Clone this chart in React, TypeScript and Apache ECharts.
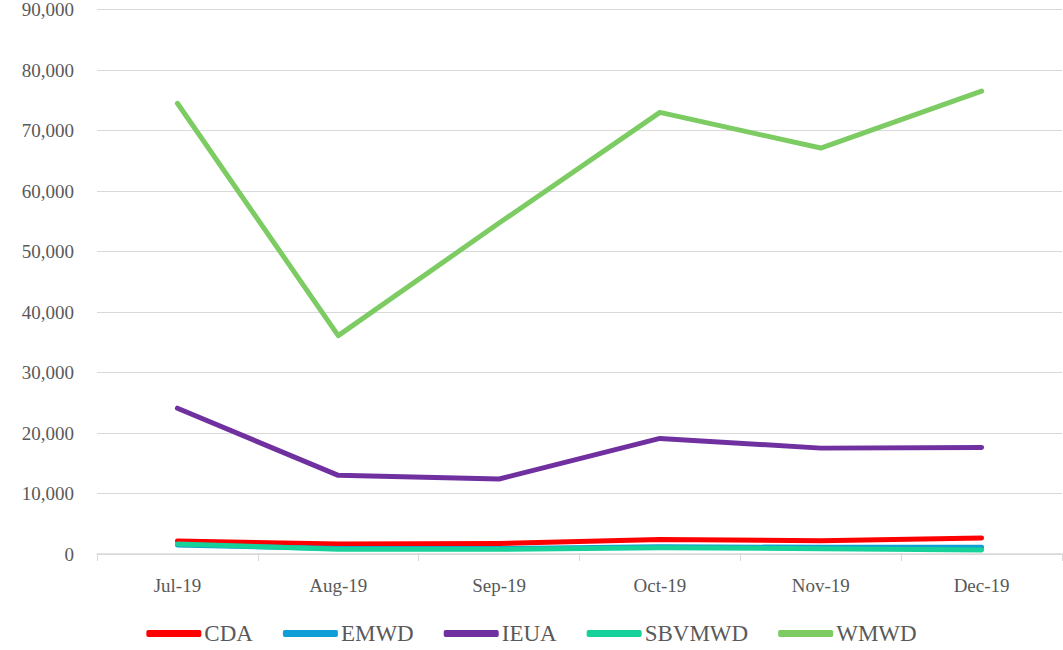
import React, { useEffect, useRef } from "react";
import * as echarts from "echarts";

const categories = ["Jul-19", "Aug-19", "Sep-19", "Oct-19", "Nov-19", "Dec-19"];
const cda = [2150, 1650, 1750, 2400, 2200, 2650];
const emwd = [1500, 900, 900, 1200, 1100, 1100];
const ieua = [24100, 13000, 12400, 19100, 17500, 17600];
const sbvmwd = [1650, 800, 780, 1050, 880, 650];
const wmwd = [74500, 36100, 54700, 73000, 67100, 76500];

const seriesDefs = [
  { name: "CDA", data: cda, color: "#ff0000" },
  { name: "EMWD", data: emwd, color: "#0f9ed5" },
  { name: "IEUA", data: ieua, color: "#7030a0" },
  { name: "SBVMWD", data: sbvmwd, color: "#17d19b" },
  { name: "WMWD", data: wmwd, color: "#7ccc63" },
];

const FONT = "'Liberation Serif', serif";

export default function App() {
  const ref = useRef<HTMLDivElement>(null);
  useEffect(() => {
    if (!ref.current) return;
    const chart = echarts.init(ref.current, undefined, { renderer: "svg" });
    chart.setOption({
      animation: false,
      backgroundColor: "#ffffff",
      grid: { left: 97, right: 1, top: 8, bottom: 96, containLabel: false },
      legend: {
        bottom: 0,
        left: "center",
        itemWidth: 55,
        itemHeight: 7,
        itemGap: 30,
        icon: "roundRect",
        textStyle: { fontFamily: FONT, fontSize: 23, color: "#595959", padding: [0, 0, 0, -2] },
        data: seriesDefs.map((s) => s.name),
      },
      xAxis: {
        type: "category",
        data: categories,
        boundaryGap: true,
        axisLine: { lineStyle: { color: "#d9d9d9", width: 1.5 } },
        axisTick: { show: true, length: 7, lineStyle: { color: "#d9d9d9" } },
        axisLabel: { fontFamily: FONT, fontSize: 19, color: "#595959", margin: 22 },
      },
      yAxis: {
        type: "value",
        min: 0,
        max: 90000,
        interval: 10000,
        axisLine: { show: false },
        axisTick: { show: false },
        splitLine: { lineStyle: { color: "#d9d9d9", width: 1 } },
        axisLabel: {
          fontFamily: FONT,
          fontSize: 19,
          color: "#595959",
          margin: 23,
          formatter: (v: number) => v.toLocaleString("en-US"),
        },
      },
      series: seriesDefs.map((s) => ({
        name: s.name,
        type: "line",
        data: s.data,
        symbol: "none",
        smooth: false,
        color: s.color,
        lineStyle: { width: 5, color: s.color, cap: "round", join: "round" },
      })),
    });
    return () => chart.dispose();
  }, []);
  return (
    <div
      ref={ref}
      style={{ position: "absolute", left: 0, top: 0, width: 1063, height: 650 }}
    />
  );
}
